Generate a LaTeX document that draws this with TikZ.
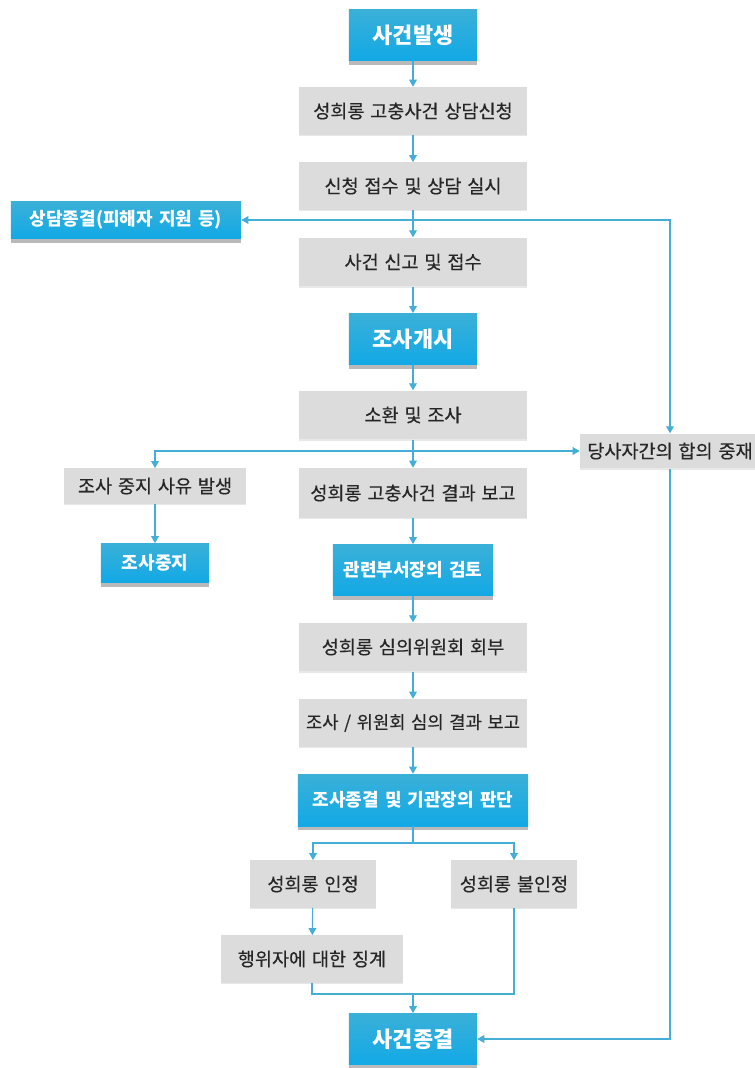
\documentclass[tikz,border=0pt]{standalone}
\usepackage{fontspec}
\usepackage{tikz}
\usetikzlibrary{shadows}
\usetikzlibrary{arrows.meta}
\newfontfamily\krfont{Noto Sans CJK KR}[WordSpace=2.2, FakeBold=0.3]
\newfontfamily\krtight{Noto Sans CJK KR}[WordSpace=1.4, FakeBold=0.3]
\newfontfamily\krbold{Noto Sans CJK KR}[WordSpace=1.5]
\definecolor{boxblue}{HTML}{12A9E6}
\definecolor{boxbluetop}{HTML}{3AB0D8}
\definecolor{boxgray}{HTML}{DCDCDC}
\definecolor{linkblue}{HTML}{45AED6}
\definecolor{textgray}{HTML}{262626}
\tikzset{
  bluebox/.style={rectangle, top color=boxbluetop, bottom color=boxblue, text=white, inner sep=0pt,
    font={\krbold\bfseries\fontsize{12.8pt}{14pt}\selectfont},
    drop shadow={shadow xshift=0pt, shadow yshift=-3pt, fill=black!45, opacity=0.6}},
  bigblue/.style={bluebox, minimum width=3.2cm, minimum height=1.28cm,
    font={\krbold\bfseries\fontsize{15.6pt}{17pt}\selectfont}},
  graybox/.style={rectangle, fill=boxgray, text=textgray, inner sep=0pt,
    minimum width=5.72cm, minimum height=1.2cm,
    font={\krfont\fontsize{13.2pt}{15pt}\selectfont},
    drop shadow={shadow xshift=0pt, shadow yshift=-1pt, fill=black!30, opacity=0.3}},
  link/.style={draw=linkblue, line width=0.8pt}
}
\begin{document}
\begin{tikzpicture}[x=0.025cm, y=-0.025cm]

\useasboundingbox (0,0) rectangle (755,1068);

\node at (413,35) [bigblue] (start) {사건발생};
\node at (413,111) [graybox] (apply) {성희롱 고충사건 상담신청};
\node at (413,186) [graybox, minimum height=1.18cm] (consult) {신청 접수 및 상담 실시};
\node at (126,220) [bluebox, minimum width=5.75cm, minimum height=0.93cm] (consultend) {상담종결(피해자 지원 등)};
\node at (413,262) [graybox, minimum height=1.22cm] (report) {사건 신고 및 접수};
\node at (413,339) [bigblue] (open) {조사개시};
\node at (413,415) [graybox, minimum height=1.22cm] (summon) {소환 및 조사};
\node at (670,451) [graybox, minimum width=4.5cm, minimum height=0.87cm] (mediate) {당사자간의 합의 중재};
\node at (155,486) [graybox, minimum width=4.53cm, minimum height=0.88cm] (stopcause) {조사 중지 사유 발생};
\node at (413,493) [graybox, minimum height=1.25cm] (result) {성희롱 고충사건 결과 보고};
\node at (155,563) [bluebox, minimum width=2.7cm, minimum height=0.98cm] (stopped) {조사중지};
\node at (413,570) [bluebox, minimum width=4cm, minimum height=1.28cm] (review) {관련부서장의 검토};
\node at (413,647) [graybox, minimum height=1.22cm] (refer) {성희롱 심의위원회 회부};
\node at (413,723) [graybox, font={\krtight\fontsize{12.6pt}{14pt}\selectfont}] (final) {조사 / 위원회 심의 결과 보고};
\node at (413,800) [bluebox, minimum width=5.75cm, minimum height=1.3cm] (decision) {조사종결 및 기관장의 판단};
\node at (313,884) [graybox, minimum width=3.15cm, minimum height=1.18cm] (accept) {성희롱 인정};
\node at (514,884) [graybox, minimum width=3.13cm, minimum height=1.18cm] (reject) {성희롱 불인정};
\node at (312,959) [graybox, minimum width=4.53cm, minimum height=1.18cm] (discipline) {행위자에 대한 징계};
\node at (413,1039) [bigblue] (closed) {사건종결};

\coordinate (split1) at (413,220);
\coordinate (split2) at (413,451);
\coordinate (split3) at (413,843);
\coordinate (merge) at (413,994);

\begin{scope}[>={Triangle[length=5pt,width=5.5pt]}]
	\draw [link, ->] (start) -- (apply);
	\draw [link, ->] (apply) -- (consult);
	\draw [link, ->] (consult) -- (report);
	\draw [link, ->] (split1) -- (consultend.east);
	\draw [link, ->] (split1) -| (mediate);
	\draw [link, ->] (report) -- (open);
	\draw [link, ->] (open) -- (summon);
	\draw [link, ->] (summon) -- (result);
	\draw [link, ->] (split2) -- (mediate.west);
	\draw [link, ->] (split2) -| (stopcause);
	\draw [link, ->] (stopcause) -- (stopped);
	\draw [link, ->] (result) -- (review);
	\draw [link, ->] (review) -- (refer);
	\draw [link, ->] (refer) -- (final);
	\draw [link, ->] (final) -- (decision);
	\draw [link] (decision) -- (split3);
	\draw [link, ->] (split3) -| (accept);
	\draw [link, ->] (split3) -| (reject);
	\draw [link, ->] (accept) -- (discipline);
	\draw [link] (discipline) |- (merge);
	\draw [link] (reject) |- (merge);
	\draw [link, ->] (merge) -- (closed);
	\draw [link, ->] (mediate) |- (closed);
\end{scope}

\end{tikzpicture}
\end{document}
